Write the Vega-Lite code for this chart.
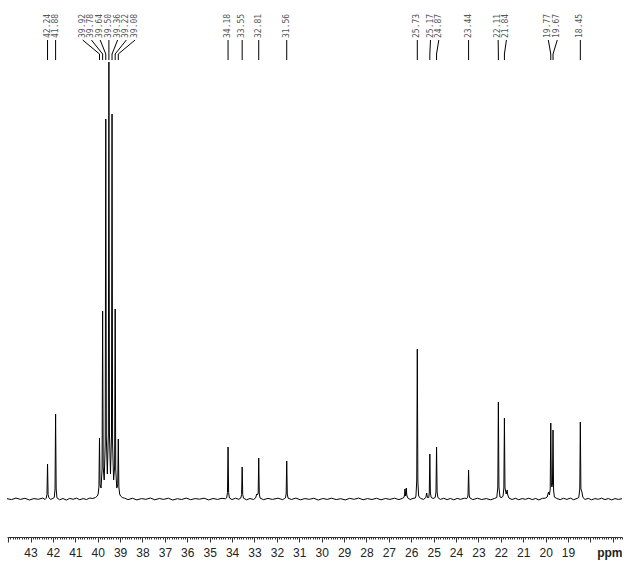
{
  "$schema": "https://vega.github.io/schema/vega-lite/v6.json",
  "width": 615,
  "height": 537,
  "autosize": {"type": "none"},
  "padding": {"left": 7, "top": 0, "right": 20, "bottom": 34},
  "background": "white",
  "config": {"view": {"stroke": null}},
  "datasets": {
    "spectrum": [
      {"ppm": 44.05, "i": 0.3}, {"ppm": 43.85, "i": -0.6}, {"ppm": 43.65, "i": 0.9}, {"ppm": 43.45, "i": -0.4},
      {"ppm": 43.25, "i": 0.7}, {"ppm": 43.05, "i": -1.0}, {"ppm": 42.85, "i": 0.4}, {"ppm": 42.65, "i": -0.3},
      {"ppm": 42.45, "i": 1.0}, {"ppm": 42.35, "i": -0.5},
      {"ppm": 42.30, "i": 0.8}, {"ppm": 42.265, "i": 4.5}, {"ppm": 42.24, "i": 35}, {"ppm": 42.215, "i": 4.5}, {"ppm": 42.18, "i": 1.2},
      {"ppm": 42.10, "i": -0.4}, {"ppm": 42.00, "i": 0.6},
      {"ppm": 41.94, "i": 1.5}, {"ppm": 41.905, "i": 10}, {"ppm": 41.88, "i": 85}, {"ppm": 41.855, "i": 10}, {"ppm": 41.82, "i": 1.2},
      {"ppm": 41.70, "i": -0.8}, {"ppm": 41.55, "i": 0.5}, {"ppm": 41.40, "i": -1.1}, {"ppm": 41.25, "i": 0.6},
      {"ppm": 41.10, "i": -0.3}, {"ppm": 40.95, "i": 0.9}, {"ppm": 40.80, "i": -0.7}, {"ppm": 40.65, "i": 0.4},
      {"ppm": 40.50, "i": -0.5}, {"ppm": 40.35, "i": 1.0}, {"ppm": 40.22, "i": 0.5}, {"ppm": 40.10, "i": 1.5},
      {"ppm": 40.02, "i": 3},
      {"ppm": 39.98, "i": 5}, {"ppm": 39.945, "i": 12}, {"ppm": 39.92, "i": 61}, {"ppm": 39.895, "i": 14},
      {"ppm": 39.85, "i": 11}, {"ppm": 39.805, "i": 30}, {"ppm": 39.78, "i": 188}, {"ppm": 39.755, "i": 32},
      {"ppm": 39.71, "i": 19}, {"ppm": 39.665, "i": 55}, {"ppm": 39.64, "i": 380}, {"ppm": 39.615, "i": 62},
      {"ppm": 39.57, "i": 25}, {"ppm": 39.525, "i": 65}, {"ppm": 39.50, "i": 437}, {"ppm": 39.475, "i": 65},
      {"ppm": 39.43, "i": 25}, {"ppm": 39.385, "i": 62}, {"ppm": 39.36, "i": 385}, {"ppm": 39.335, "i": 55},
      {"ppm": 39.29, "i": 19}, {"ppm": 39.245, "i": 32}, {"ppm": 39.22, "i": 190}, {"ppm": 39.195, "i": 30},
      {"ppm": 39.15, "i": 11}, {"ppm": 39.105, "i": 14}, {"ppm": 39.08, "i": 60}, {"ppm": 39.055, "i": 12},
      {"ppm": 39.02, "i": 5}, {"ppm": 38.98, "i": 3}, {"ppm": 38.90, "i": 1.5}, {"ppm": 38.80, "i": 0.8},
      {"ppm": 38.65, "i": -0.6}, {"ppm": 38.45, "i": 0.7}, {"ppm": 38.25, "i": -0.9}, {"ppm": 38.05, "i": 0.4},
      {"ppm": 37.85, "i": -0.3}, {"ppm": 37.65, "i": 1.0}, {"ppm": 37.45, "i": -0.8}, {"ppm": 37.25, "i": 0.5},
      {"ppm": 37.05, "i": -0.4}, {"ppm": 36.85, "i": 0.8}, {"ppm": 36.65, "i": -1.0}, {"ppm": 36.45, "i": 0.3},
      {"ppm": 36.25, "i": -0.5}, {"ppm": 36.05, "i": 0.9}, {"ppm": 35.85, "i": -0.7}, {"ppm": 35.65, "i": 0.4},
      {"ppm": 35.45, "i": -0.2}, {"ppm": 35.25, "i": 0.8}, {"ppm": 35.05, "i": -0.9}, {"ppm": 34.85, "i": 0.5},
      {"ppm": 34.65, "i": -0.4}, {"ppm": 34.45, "i": 0.7}, {"ppm": 34.30, "i": 0.2},
      {"ppm": 34.24, "i": 1.2}, {"ppm": 34.205, "i": 6.5}, {"ppm": 34.18, "i": 52}, {"ppm": 34.155, "i": 6.5}, {"ppm": 34.12, "i": 1.0},
      {"ppm": 34.00, "i": -0.6}, {"ppm": 33.85, "i": 0.8}, {"ppm": 33.70, "i": -0.3},
      {"ppm": 33.61, "i": 1.0}, {"ppm": 33.575, "i": 4.5}, {"ppm": 33.55, "i": 32}, {"ppm": 33.525, "i": 4.5}, {"ppm": 33.49, "i": 0.8},
      {"ppm": 33.35, "i": -0.8}, {"ppm": 33.20, "i": 0.5}, {"ppm": 33.05, "i": -0.5}, {"ppm": 32.95, "i": 1.0},
      {"ppm": 32.90, "i": 5}, {"ppm": 32.87, "i": 4}, {"ppm": 32.835, "i": 6}, {"ppm": 32.81, "i": 41}, {"ppm": 32.785, "i": 5}, {"ppm": 32.75, "i": 1.0},
      {"ppm": 32.60, "i": -0.7}, {"ppm": 32.40, "i": 0.6}, {"ppm": 32.20, "i": -0.4}, {"ppm": 31.95, "i": 0.8},
      {"ppm": 31.75, "i": -0.6}, {"ppm": 31.65, "i": 0.5},
      {"ppm": 31.62, "i": 1.0}, {"ppm": 31.585, "i": 5}, {"ppm": 31.56, "i": 38}, {"ppm": 31.535, "i": 5}, {"ppm": 31.50, "i": 0.8},
      {"ppm": 31.35, "i": -0.5}, {"ppm": 31.15, "i": 0.9}, {"ppm": 30.95, "i": -0.8}, {"ppm": 30.75, "i": 0.4},
      {"ppm": 30.55, "i": -0.3}, {"ppm": 30.35, "i": 0.7}, {"ppm": 30.15, "i": -1.0}, {"ppm": 29.95, "i": 0.5},
      {"ppm": 29.75, "i": -0.4}, {"ppm": 29.55, "i": 0.8}, {"ppm": 29.35, "i": -0.6}, {"ppm": 29.15, "i": 0.3},
      {"ppm": 28.95, "i": -0.9}, {"ppm": 28.75, "i": 0.6}, {"ppm": 28.55, "i": -0.3}, {"ppm": 28.35, "i": 0.9},
      {"ppm": 28.15, "i": -0.7}, {"ppm": 27.95, "i": 0.4}, {"ppm": 27.75, "i": -0.5}, {"ppm": 27.55, "i": 0.7},
      {"ppm": 27.35, "i": -0.8}, {"ppm": 27.15, "i": 0.5}, {"ppm": 26.95, "i": -0.4}, {"ppm": 26.75, "i": 0.8},
      {"ppm": 26.55, "i": -0.6}, {"ppm": 26.40, "i": 0.6},
      {"ppm": 26.33, "i": 1.5}, {"ppm": 26.30, "i": 4}, {"ppm": 26.28, "i": 10}, {"ppm": 26.25, "i": 3}, {"ppm": 26.22, "i": 11}, {"ppm": 26.20, "i": 4}, {"ppm": 26.16, "i": 1.2},
      {"ppm": 26.05, "i": -0.5}, {"ppm": 25.92, "i": 0.6}, {"ppm": 25.82, "i": 1.0},
      {"ppm": 25.79, "i": 3}, {"ppm": 25.755, "i": 18}, {"ppm": 25.73, "i": 150}, {"ppm": 25.705, "i": 18}, {"ppm": 25.67, "i": 3},
      {"ppm": 25.58, "i": 0.5}, {"ppm": 25.45, "i": -0.4}, {"ppm": 25.35, "i": 1.5}, {"ppm": 25.31, "i": 6}, {"ppm": 25.28, "i": 1.5},
      {"ppm": 25.22, "i": 1.5}, {"ppm": 25.195, "i": 6}, {"ppm": 25.17, "i": 45}, {"ppm": 25.145, "i": 6}, {"ppm": 25.11, "i": 1.5},
      {"ppm": 25.02, "i": 0.5}, {"ppm": 24.93, "i": 1.5},
      {"ppm": 24.895, "i": 7}, {"ppm": 24.87, "i": 52}, {"ppm": 24.845, "i": 7}, {"ppm": 24.81, "i": 1.5},
      {"ppm": 24.70, "i": -0.4}, {"ppm": 24.55, "i": 0.7}, {"ppm": 24.40, "i": -0.6}, {"ppm": 24.25, "i": 0.5},
      {"ppm": 24.10, "i": -0.8}, {"ppm": 23.95, "i": 0.6}, {"ppm": 23.80, "i": -0.3}, {"ppm": 23.62, "i": 0.8}, {"ppm": 23.52, "i": 0.5},
      {"ppm": 23.49, "i": 1.2}, {"ppm": 23.465, "i": 4}, {"ppm": 23.44, "i": 29}, {"ppm": 23.415, "i": 4}, {"ppm": 23.38, "i": 1.0},
      {"ppm": 23.25, "i": -0.6}, {"ppm": 23.05, "i": 0.7}, {"ppm": 22.85, "i": -0.5}, {"ppm": 22.65, "i": 0.4},
      {"ppm": 22.45, "i": -0.8}, {"ppm": 22.28, "i": 0.6}, {"ppm": 22.18, "i": 1.5},
      {"ppm": 22.135, "i": 12}, {"ppm": 22.11, "i": 97}, {"ppm": 22.085, "i": 12}, {"ppm": 22.04, "i": 2},
      {"ppm": 21.95, "i": 1.5}, {"ppm": 21.90, "i": 3}, {"ppm": 21.865, "i": 11}, {"ppm": 21.84, "i": 81}, {"ppm": 21.815, "i": 11},
      {"ppm": 21.76, "i": 5}, {"ppm": 21.72, "i": 9}, {"ppm": 21.69, "i": 4}, {"ppm": 21.64, "i": 1.0},
      {"ppm": 21.50, "i": -0.5}, {"ppm": 21.35, "i": 0.7}, {"ppm": 21.20, "i": -0.7}, {"ppm": 21.05, "i": 0.4},
      {"ppm": 20.90, "i": -0.3}, {"ppm": 20.75, "i": 0.8}, {"ppm": 20.60, "i": -0.6}, {"ppm": 20.45, "i": 0.5},
      {"ppm": 20.30, "i": -0.9}, {"ppm": 20.15, "i": 0.6}, {"ppm": 20.02, "i": 0.8}, {"ppm": 19.93, "i": 2},
      {"ppm": 19.87, "i": 7}, {"ppm": 19.83, "i": 4}, {"ppm": 19.795, "i": 10}, {"ppm": 19.77, "i": 76}, {"ppm": 19.745, "i": 16},
      {"ppm": 19.72, "i": 12}, {"ppm": 19.695, "i": 15}, {"ppm": 19.67, "i": 69}, {"ppm": 19.645, "i": 9}, {"ppm": 19.61, "i": 2},
      {"ppm": 19.50, "i": 0.5}, {"ppm": 19.35, "i": -0.6}, {"ppm": 19.20, "i": 0.7}, {"ppm": 19.05, "i": -0.4},
      {"ppm": 18.90, "i": 0.9}, {"ppm": 18.75, "i": -0.7}, {"ppm": 18.60, "i": 0.5}, {"ppm": 18.52, "i": 1.5},
      {"ppm": 18.475, "i": 10}, {"ppm": 18.45, "i": 77}, {"ppm": 18.425, "i": 10}, {"ppm": 18.38, "i": 7}, {"ppm": 18.34, "i": 2},
      {"ppm": 18.25, "i": -0.5}, {"ppm": 18.10, "i": 0.6}, {"ppm": 17.95, "i": -0.8}, {"ppm": 17.80, "i": 0.4},
      {"ppm": 17.65, "i": -0.3}, {"ppm": 17.50, "i": 0.8}, {"ppm": 17.35, "i": -0.6}, {"ppm": 17.20, "i": 0.5},
      {"ppm": 17.05, "i": -0.9}, {"ppm": 16.90, "i": 0.4}, {"ppm": 16.75, "i": -0.4}, {"ppm": 16.59, "i": 0.3}
    ],
    "peaks": [
      {"ppm": 42.24, "lx": 42.24, "label": "42.24"},
      {"ppm": 41.88, "lx": 41.88, "label": "41.88"},
      {"ppm": 39.92, "lx": 40.67, "label": "39.92"},
      {"ppm": 39.78, "lx": 40.28, "label": "39.78"},
      {"ppm": 39.64, "lx": 39.89, "label": "39.64"},
      {"ppm": 39.50, "lx": 39.50, "label": "39.50"},
      {"ppm": 39.36, "lx": 39.11, "label": "39.36"},
      {"ppm": 39.22, "lx": 38.72, "label": "39.22"},
      {"ppm": 39.08, "lx": 38.33, "label": "39.08"},
      {"ppm": 34.18, "lx": 34.18, "label": "34.18"},
      {"ppm": 33.55, "lx": 33.55, "label": "33.55"},
      {"ppm": 32.81, "lx": 32.81, "label": "32.81"},
      {"ppm": 31.56, "lx": 31.56, "label": "31.56"},
      {"ppm": 25.73, "lx": 25.73, "label": "25.73"},
      {"ppm": 25.17, "lx": 25.14, "label": "25.17"},
      {"ppm": 24.87, "lx": 24.77, "label": "24.87"},
      {"ppm": 23.44, "lx": 23.44, "label": "23.44"},
      {"ppm": 22.11, "lx": 22.12, "label": "22.11"},
      {"ppm": 21.84, "lx": 21.75, "label": "21.84"},
      {"ppm": 19.77, "lx": 19.88, "label": "19.77"},
      {"ppm": 19.67, "lx": 19.48, "label": "19.67"},
      {"ppm": 18.45, "lx": 18.45, "label": "18.45"}
    ]
  },
  "encoding": {
    "x": {
      "type": "quantitative",
      "scale": {"domain": [16.59, 44.05], "reverse": true, "nice": false, "zero": false},
      "axis": {
        "title": "ppm",
        "tickCount": 280,
        "labelExpr": "(abs(datum.value - round(datum.value)) < 0.001 && datum.value > 18.5 && datum.value < 43.5) ? format(datum.value, 'd') : ''",
        "labelOverlap": false,
        "labelFlush": false,
        "labelFont": "Liberation Sans",
        "labelFontSize": 12,
        "labelColor": "#222222",
        "labelPadding": 5,
        "tickColor": "#333333",
        "tickWidth": 1,
        "tickSize": {"condition": {"test": "abs(datum.value - round(datum.value)) < 0.001", "value": 5}, "value": 2},
        "domainColor": "#333333",
        "domainWidth": 1,
        "grid": false,
        "titleFont": "Liberation Sans",
        "titleFontSize": 12,
        "titleFontWeight": "bold",
        "titleColor": "#222222",
        "titleAnchor": "end",
        "titleAlign": "right",
        "titleBaseline": "top",
        "titleX": 615,
        "titleY": 10
      }
    },
    "y": {
      "type": "quantitative",
      "scale": {"domain": [-38, 499], "nice": false, "zero": false},
      "axis": null
    }
  },
  "layer": [
    {
      "data": {"name": "spectrum"},
      "mark": {"type": "line", "color": "#000000", "strokeWidth": 1, "interpolate": "linear"},
      "encoding": {
        "x": {"field": "ppm", "type": "quantitative"},
        "y": {"field": "i", "type": "quantitative"}
      }
    },
    {
      "data": {"name": "peaks"},
      "mark": {"type": "rule", "color": "#000000", "strokeWidth": 1},
      "encoding": {
        "x": {"field": "lx", "type": "quantitative"},
        "x2": {"field": "ppm"},
        "y": {"datum": 459, "type": "quantitative"},
        "y2": {"datum": 445}
      }
    },
    {
      "data": {"name": "peaks"},
      "mark": {"type": "rule", "color": "#000000", "strokeWidth": 1},
      "encoding": {
        "x": {"field": "ppm", "type": "quantitative"},
        "y": {"datum": 445, "type": "quantitative"},
        "y2": {"datum": 439}
      }
    },
    {
      "data": {"name": "peaks"},
      "mark": {"type": "text", "angle": 270, "align": "left", "baseline": "middle", "font": "DejaVu Sans Mono", "fontSize": 8, "color": "#555555"},
      "encoding": {
        "x": {"field": "lx", "type": "quantitative"},
        "y": {"datum": 461, "type": "quantitative"},
        "text": {"field": "label"}
      }
    }
  ]
}
